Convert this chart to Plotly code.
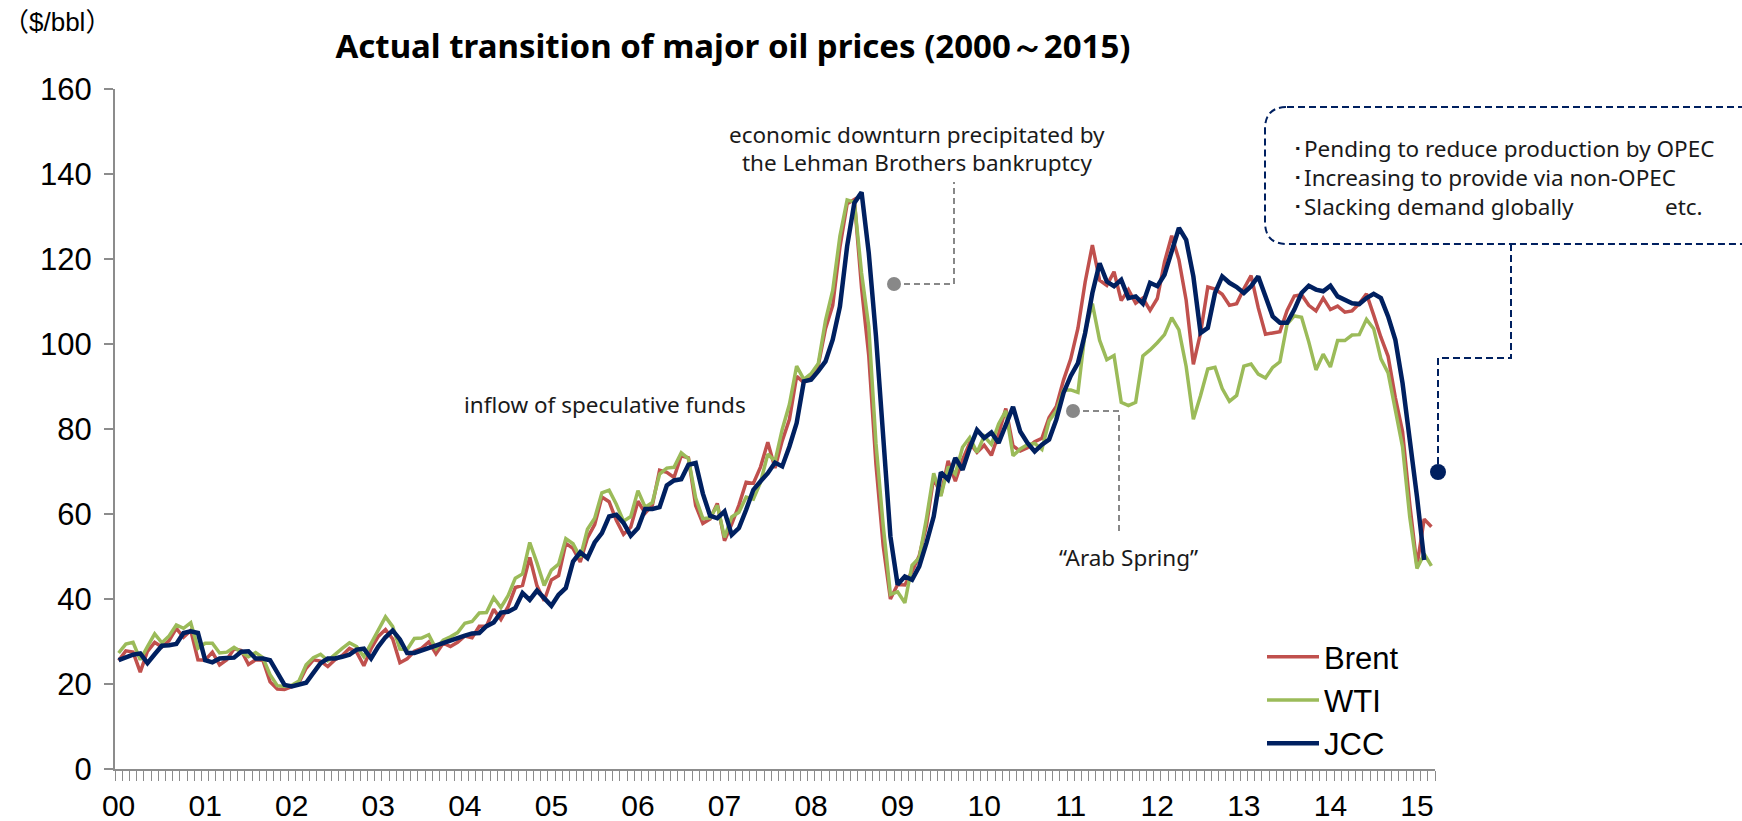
import plotly.graph_objects as go

# ---------------- data ----------------
years = list(range(2000, 2016))
months = [f"{y}-{m:02d}" for y in years for m in range(1, 13)][:183]  # 2000-01 .. 2015-03
year_labels = ["00", "01", "02", "03", "04", "05", "06", "07",
               "08", "09", "10", "11", "12", "13", "14", "15"]

brent = [
    25.5, 27.8, 27.5, 22.8, 27.7, 29.8, 28.7, 30.2, 33.1, 31.0, 32.6, 25.7,
    25.6, 27.5, 24.5, 25.7, 28.3, 27.9, 24.6, 25.7, 25.6, 20.5, 18.8, 18.7,
    19.4, 20.3, 23.7, 25.7, 25.4, 24.1, 25.7, 26.7, 28.4, 27.5, 24.3, 28.3,
    31.2, 32.8, 30.6, 25.0, 25.9, 27.7, 28.4, 29.9, 27.1, 29.6, 28.8, 29.8,
    31.3, 30.9, 33.6, 33.6, 37.6, 35.2, 38.2, 42.7, 43.2, 49.8, 43.1, 39.6,
    44.5, 45.5, 53.1, 51.9, 48.7, 54.4, 57.5, 64.0, 62.9, 58.5, 55.2, 56.9,
    63.0, 60.2, 62.1, 70.3, 69.8, 68.6, 73.7, 73.2, 62.0, 57.8, 58.8, 62.5,
    53.7, 57.6, 62.1, 67.5, 67.2, 71.1, 76.9, 70.8, 77.2, 82.3, 92.4, 90.9,
    92.2, 95.0, 103.6, 109.1, 122.8, 133.0, 134.0, 113.2, 97.2, 71.6, 52.5, 40.0,
    43.4, 43.3, 46.5, 50.2, 57.3, 68.6, 64.4, 72.5, 67.7, 72.8, 76.7, 74.5,
    76.2, 73.8, 78.8, 84.8, 76.0, 74.8, 75.6, 77.0, 77.8, 82.7, 85.3, 91.5,
    96.5, 103.7, 114.6, 123.3, 115.0, 113.8, 117.0, 110.2, 112.8, 109.6, 110.8, 107.9,
    110.7, 119.3, 125.5, 119.8, 110.3, 95.2, 102.6, 113.4, 112.9, 111.7, 109.1, 109.5,
    113.0, 116.1, 108.5, 102.3, 102.6, 102.9, 107.9, 111.3, 111.6, 109.1, 107.8, 110.8,
    108.1, 108.9, 107.5, 107.8, 109.5, 111.8, 106.8, 101.6, 97.1, 87.4, 79.4, 62.3,
    47.8, 58.8, 57.0,
]

wti = [
    27.3, 29.4, 29.8, 25.7, 28.8, 31.8, 29.7, 31.3, 33.9, 33.1, 34.4, 28.4,
    29.6, 29.6, 27.3, 27.5, 28.6, 27.6, 26.4, 27.4, 26.2, 22.2, 19.6, 19.4,
    19.7, 20.7, 24.5, 26.2, 27.0, 25.5, 27.0, 28.4, 29.7, 28.8, 26.4, 29.5,
    33.0, 35.8, 33.5, 28.2, 28.1, 30.7, 30.8, 31.6, 28.3, 30.3, 31.1, 32.1,
    34.3, 34.7, 36.7, 36.8, 40.3, 38.0, 40.8, 44.9, 45.9, 53.3, 48.5, 43.2,
    46.8, 48.2, 54.2, 53.0, 49.8, 56.4, 59.0, 65.0, 65.6, 62.3, 58.3, 59.4,
    65.5, 61.6, 62.7, 69.4, 70.8, 71.0, 74.4, 73.0, 63.8, 58.9, 59.1, 62.0,
    54.5, 59.3, 60.4, 64.0, 63.5, 67.5, 74.1, 72.4, 79.9, 85.8, 94.8, 91.7,
    93.0, 95.4, 105.5, 112.6, 125.4, 133.9, 133.4, 116.7, 104.1, 76.6, 57.3, 41.1,
    41.7, 39.1, 47.9, 49.7, 59.0, 69.6, 64.2, 71.1, 69.4, 75.7, 78.0, 74.5,
    78.3, 76.4, 81.2, 84.3, 73.7, 75.3, 76.3, 76.6, 75.2, 81.9, 84.3, 89.2,
    89.2, 88.6, 102.9, 109.5, 100.9, 96.3, 97.3, 86.3, 85.5, 86.3, 97.2, 98.6,
    100.3, 102.2, 106.2, 103.3, 94.7, 82.3, 87.9, 94.1, 94.5, 89.5, 86.5, 87.9,
    94.8, 95.3, 92.9, 92.0, 94.5, 95.8, 104.7, 106.6, 106.3, 100.5, 93.9, 97.6,
    94.6, 100.8, 100.8, 102.1, 102.2, 105.8, 103.6, 96.5, 93.2, 84.4, 75.8, 59.3,
    47.2, 50.6, 47.8,
]

jcc = [
    25.6, 26.3, 26.9, 27.2, 24.9, 27.0, 29.0, 29.1, 29.4, 32.0, 32.4, 32.0,
    25.6, 25.1, 26.0, 26.1, 26.2, 27.6, 27.7, 26.0, 26.0, 25.6, 22.6, 19.8,
    19.4, 19.8, 20.3, 22.6, 24.9, 26.0, 26.0, 26.4, 26.9, 28.1, 28.3, 26.0,
    28.8, 31.0, 32.6, 30.5, 27.3, 27.3, 27.9, 28.6, 29.1, 29.6, 30.3, 30.8,
    31.4, 31.9, 32.0, 33.6, 34.5, 36.8, 37.0, 37.9, 41.4, 39.8, 42.0, 40.2,
    38.4, 41.0, 42.6, 48.8, 51.0, 49.6, 53.3, 55.5, 59.4, 59.8, 57.9, 54.9,
    56.7, 61.2, 61.2, 61.6, 66.7, 67.9, 68.2, 71.6, 72.0, 64.8, 59.6, 59.0,
    60.6, 55.1, 56.7, 61.0, 65.7, 67.7, 69.6, 72.1, 71.2, 75.9, 81.4, 91.2,
    91.6, 93.6, 95.9, 101.0, 108.8, 123.0, 133.2, 135.7, 121.4, 101.8, 78.3, 54.7,
    43.4, 45.3, 44.5, 47.7, 53.2, 59.4, 69.8, 68.1, 73.2, 70.4, 75.5, 79.8,
    77.9, 79.2, 76.7, 81.0, 85.2, 79.4, 76.7, 74.7, 76.3, 77.5, 82.2, 88.5,
    92.5, 95.5, 102.6, 112.0, 119.0, 114.7, 113.6, 115.1, 110.8, 111.2, 109.5, 114.4,
    113.6, 116.3, 122.2, 127.3, 124.5, 115.9, 102.6, 103.8, 112.0, 115.9, 114.4, 113.4,
    112.0, 113.6, 115.9, 111.2, 106.5, 105.0, 105.0, 108.1, 112.0, 113.7, 112.8, 112.4,
    113.7, 111.2, 110.3, 109.6, 109.4, 110.8, 111.8, 110.8, 106.5, 101.0, 90.8, 78.3,
    64.1, 49.2,
]

series_names = ["Brent", "WTI", "JCC"]
series_colors = ["#C0504D", "#9BBB59", "#002060"]

# ---------------- layout helpers ----------------
W, H = 1742, 821
L, R, T, B = 115, 1435, 89, 769


def px(x):
    return (x - L) / (R - L)


def py(y):
    return (B - y) / (B - T)


x_idx = list(range(len(months)))

fig = go.Figure()
for name, vals, col, w in zip(series_names, [brent, wti, jcc], series_colors, [3.5, 3.5, 4.5]):
    fig.add_trace(go.Scatter(
        x=x_idx[:len(vals)], y=vals, mode="lines", name=name,
        line=dict(color=col, width=w), hoverinfo="x+y"))

axis_gray = "#8c8c8c"
num_font = dict(family="Liberation Sans, Arial, sans-serif", size=31, color="black")
txt_font = dict(family="Noto Sans, sans-serif", size=22.5, color="#1a1a1a")

fig.update_layout(
    width=W, height=H,
    margin=dict(l=L, r=W - R, t=T, b=H - B, autoexpand=False),
    paper_bgcolor="white", plot_bgcolor="white",
    showlegend=True,
    legend=dict(x=px(1262), y=py(630), xanchor="left", yanchor="top",
                font=num_font, bgcolor="rgba(0,0,0,0)", itemwidth=52,
                tracegroupgap=0),
    title=dict(text="<b>Actual transition of major oil prices (2000～2015)</b>",
               x=px(733), xref="paper", xanchor="center",
               y=1 - 46 / H, yref="container", yanchor="middle",
               font=dict(family="Noto Sans, sans-serif", size=33, color="black")),
)

fig.update_xaxes(
    range=[-0.5, len(months) - 0.5], automargin=False,
    tickmode="array", tickvals=[12 * i for i in range(len(year_labels))],
    ticktext=year_labels, tickfont=dict(num_font, size=30),
    ticks="outside", ticklen=9, tickcolor="rgba(0,0,0,0)",
    showline=True, linecolor=axis_gray, linewidth=2,
    showgrid=False, zeroline=False,
    minor=dict(tickmode="linear", tick0=-0.5, dtick=1, ticks="outside",
               ticklen=10, tickwidth=1, tickcolor=axis_gray, showgrid=False),
)
fig.update_yaxes(
    range=[0, 160], automargin=False,
    tickmode="array", tickvals=list(range(0, 161, 20)),
    tickfont=num_font, ticks="outside", ticklen=9, tickwidth=2, tickcolor=axis_gray,
    ticklabelstandoff=6,
    showline=True, linecolor=axis_gray, linewidth=2,
    showgrid=False, zeroline=False,
)

gray = "#888888"
navy = "#002060"
shapes = []


def path(points):
    return "M " + " L ".join(f"{px(a)},{py(b)}" for a, b in points)


def dot(cx, cy, r, col):
    return dict(type="circle", xref="paper", yref="paper",
                x0=px(cx - r), x1=px(cx + r), y0=py(cy + r), y1=py(cy - r),
                fillcolor=col, line=dict(width=0))


# Lehman connector
shapes.append(dict(type="path", xref="paper", yref="paper",
                   path=path([(894, 284), (954, 284), (954, 182)]),
                   line=dict(color=gray, width=2, dash="6px,4px")))
shapes.append(dot(894, 284, 7, gray))
# Arab Spring connector
shapes.append(dict(type="path", xref="paper", yref="paper",
                   path=path([(1073, 411), (1119, 411), (1119, 532)]),
                   line=dict(color=gray, width=2, dash="6px,4px")))
shapes.append(dot(1073, 411, 7, gray))

# rounded dashed box
x0, x1, y0, y1, r = 1265, 1765, 107, 244, 22
box = (f"M {px(x0 + r)},{py(y0)} L {px(x1 - r)},{py(y0)} "
       f"Q {px(x1)},{py(y0)} {px(x1)},{py(y0 + r)} L {px(x1)},{py(y1 - r)} "
       f"Q {px(x1)},{py(y1)} {px(x1 - r)},{py(y1)} L {px(x0 + r)},{py(y1)} "
       f"Q {px(x0)},{py(y1)} {px(x0)},{py(y1 - r)} L {px(x0)},{py(y0 + r)} "
       f"Q {px(x0)},{py(y0)} {px(x0 + r)},{py(y0)} Z")
shapes.append(dict(type="path", xref="paper", yref="paper", path=box,
                   line=dict(color=navy, width=2, dash="7px,4px")))
shapes.append(dict(type="path", xref="paper", yref="paper",
                   path=path([(1511, 244), (1511, 358), (1438, 358), (1438, 464)]),
                   line=dict(color=navy, width=2, dash="7px,4px")))
shapes.append(dot(1438, 472, 8, navy))

fig.update_layout(shapes=shapes)

annotations = []


def text(t, x, y, anchor="center", font=txt_font):
    annotations.append(dict(text=t, x=px(x), y=py(y), xref="paper", yref="paper",
                            xanchor=anchor, yanchor="middle", showarrow=False,
                            font=font))


text("（$/bbl）", 1, 22, "left",
     dict(family="Liberation Sans, Noto Sans CJK JP, sans-serif", size=26, color="black"))
text("economic downturn precipitated by", 917, 134)
text("the Lehman Brothers bankruptcy", 917, 163)
text("inflow of speculative funds", 605, 404)
text("“Arab Spring”", 1128, 557)
text("･Pending to reduce production by OPEC", 1290, 148, "left")
text("･Increasing to provide via non-OPEC", 1290, 177, "left")
text("･Slacking demand globally", 1290, 206, "left")
text("etc.", 1663, 206, "left")

fig.update_layout(annotations=annotations)

fig.write_html("out.html", config={"displayModeBar": False},
               post_script="document.body.style.margin='0';")
